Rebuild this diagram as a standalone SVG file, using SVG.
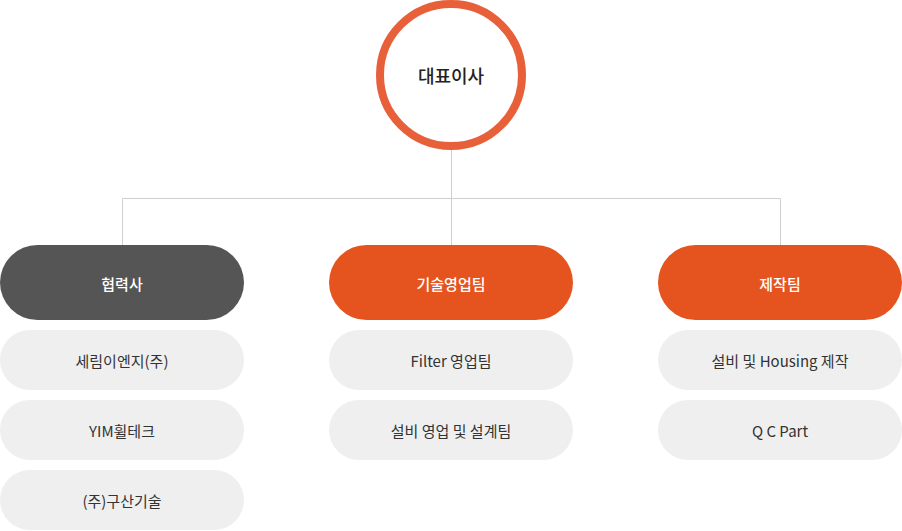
<svg xmlns="http://www.w3.org/2000/svg" width="902" height="531" viewBox="0 0 902 531">
<style>
text{font-family:"Noto Sans CJK KR","Noto Sans",sans-serif;font-size:15px;text-anchor:middle;dominant-baseline:central}
.h{fill:#fff;font-weight:500}
.s{fill:#333}
.sub{fill:#efefef}
.ln{stroke:#cfcfcf;stroke-width:1;fill:none}
</style>
<g id="connectors">
<path class="ln" d="M451.5 150V198.5M122.5 245V198.5H780.5V245M451.5 198.5V245"/>
</g>
<g id="ceo">
<circle cx="451" cy="75" r="71" fill="#fff" stroke="#e8603a" stroke-width="8"/>
<text x="451" y="75" style="font-size:18px;font-weight:500;fill:#222">대표이사</text>
</g>
<g id="partners">
<rect x="0" y="245" width="244" height="75" rx="37.5" fill="#555"/>
<text class="h" x="122" y="283">협력사</text>
</g>
<g id="p1"><rect class="sub" x="0" y="330" width="244" height="60" rx="30"/><text class="s" x="122" y="360">세림이엔지(주)</text></g>
<g id="p2"><rect class="sub" x="0" y="400" width="244" height="60" rx="30"/><text class="s" x="122" y="430">YIM휠테크</text></g>
<g id="p3"><rect class="sub" x="0" y="470" width="244" height="60" rx="30"/><text class="s" x="122" y="500">(주)구산기술</text></g>
<g id="tech">
<rect x="329" y="245" width="244" height="75" rx="37.5" fill="#e5541e"/>
<text class="h" x="451" y="283">기술영업팀</text>
</g>
<g id="t1"><rect class="sub" x="329" y="330" width="244" height="60" rx="30"/><text class="s" x="451" y="360">Filter 영업팀</text></g>
<g id="t2"><rect class="sub" x="329" y="400" width="244" height="60" rx="30"/><text class="s" x="451" y="430">설비 영업 및 설계팀</text></g>
<g id="prod">
<rect x="658" y="245" width="244" height="75" rx="37.5" fill="#e5541e"/>
<text class="h" x="780" y="283">제작팀</text>
</g>
<g id="m1"><rect class="sub" x="658" y="330" width="244" height="60" rx="30"/><text class="s" x="780" y="360">설비 및 Housing 제작</text></g>
<g id="m2"><rect class="sub" x="658" y="400" width="244" height="60" rx="30"/><text class="s" x="780" y="430">Q C Part</text></g>
</svg>
